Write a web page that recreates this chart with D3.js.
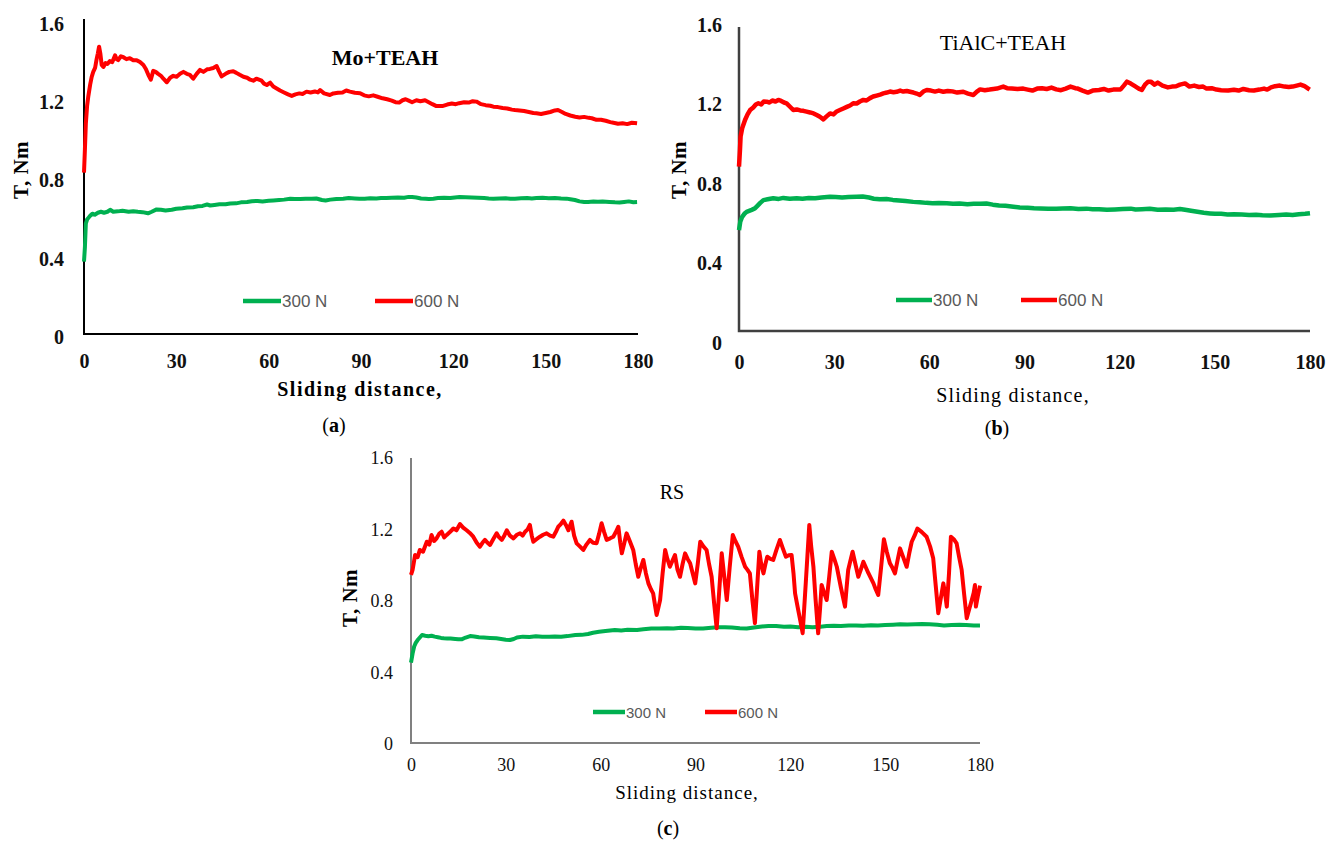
<!DOCTYPE html>
<html>
<head>
<meta charset="utf-8">
<script src="https://cdn.jsdelivr.net/npm/d3@7"></script>
<style>
body { margin: 0; background: #fff; }
svg { display: block; }
</style>
</head>
<body>
<script>
// tick values and labels shared by the three panels
var xTicks = [0, 30, 60, 90, 120, 150, 180];
var yTicks = [0, 0.4, 0.8, 1.2, 1.6];
var loads = ["300 N", "600 N"];
var colors = {"300 N": "#00b050", "600 N": "#ff0000"};
var titles = ["Mo+TEAH", "TiAlC+TEAH", "RS"];
var captions = ["a", "b", "c"];
var xLabel = "Sliding distance,";
var yLabel = "T, Nm";

// (a) Mo+TEAH, [sliding distance, torque]
var moGreen = [[0,0.375],[0.3,0.45],[0.6,0.57],[1,0.59],[1.5,0.6],[2,0.61],[2.7,0.62],[3.5,0.615],[4.5,0.625],[5.5,0.63],[6.5,0.625],[7.6,0.63],[8.5,0.64],[9.5,0.63],[11,0.632],[12.5,0.635],[14.5,0.63],[16,0.633],[17.5,0.63],[19,0.628],[20.8,0.622],[22,0.63],[23.6,0.642],[25,0.64],[26.5,0.636],[28.5,0.64],[30,0.645],[32,0.648],[33.5,0.652],[35.5,0.653],[37,0.658],[38.5,0.66],[40,0.667],[41,0.662],[42.4,0.665],[44,0.668],[46,0.668],[47.5,0.672],[49.4,0.673],[51,0.678],[53,0.68],[54.5,0.684],[56.4,0.685],[58,0.683],[60,0.686],[61.5,0.688],[63.4,0.69],[65,0.692],[67,0.696],[68.5,0.695],[70.3,0.695],[72,0.697],[74,0.696],[75.5,0.698],[77.3,0.69],[78.5,0.688],[80,0.692],[82,0.695],[84.2,0.697],[86,0.7],[88,0.698],[89.5,0.696],[91.2,0.697],[93,0.699],[95,0.698],[96.5,0.7],[98.2,0.7],[100,0.702],[102,0.703],[104,0.702],[105.5,0.706],[106.6,0.705],[108,0.703],[109.5,0.698],[111,0.696],[112,0.695],[113.5,0.697],[115,0.7],[117,0.702],[119,0.7],[120.5,0.703],[122,0.705],[124,0.704],[126,0.703],[128,0.702],[130,0.7],[131.5,0.698],[133,0.697],[135,0.698],[137,0.699],[138.5,0.696],[140,0.697],[142,0.699],[144,0.7],[145.5,0.698],[147,0.7],[149,0.701],[151,0.699],[153,0.7],[155,0.698],[156.8,0.697],[158,0.694],[159.5,0.69],[161,0.683],[162.5,0.68],[163.8,0.68],[165.5,0.682],[167,0.681],[168.5,0.683],[170.7,0.68],[172.5,0.678],[174,0.677],[175.5,0.68],[177,0.683],[178.5,0.679],[179.7,0.68]];
var moRed = [[0,0.83],[0.3,0.95],[0.6,1.08],[1,1.17],[1.4,1.22],[2,1.28],[2.5,1.32],[3,1.345],[3.6,1.365],[4.1,1.41],[4.5,1.44],[4.9,1.474],[5.3,1.44],[5.75,1.38],[6.3,1.37],[7,1.39],[7.6,1.385],[8.4,1.4],[9.2,1.395],[10.1,1.43],[10.6,1.41],[11.1,1.405],[12,1.425],[12.8,1.42],[13.8,1.41],[14.9,1.415],[16,1.405],[17.1,1.405],[18.2,1.395],[19.3,1.38],[20.1,1.36],[20.9,1.33],[21.7,1.305],[22.5,1.35],[23.3,1.345],[24.1,1.335],[25,1.325],[25.8,1.31],[26.9,1.292],[28,1.315],[29,1.325],[30.1,1.32],[31.2,1.335],[32.3,1.345],[33.4,1.335],[34.4,1.33],[35.5,1.31],[36.6,1.335],[37.7,1.355],[38.8,1.345],[40,1.358],[40.9,1.36],[42,1.365],[43.1,1.375],[43.8,1.35],[44.7,1.322],[46,1.335],[47.2,1.345],[48.5,1.348],[49.5,1.34],[50.6,1.33],[51.8,1.32],[53,1.315],[54,1.305],[55,1.3],[56,1.31],[57.7,1.3],[58.5,1.285],[59.4,1.278],[60.5,1.29],[61.5,1.27],[62.6,1.26],[63.7,1.25],[65,1.24],[66.3,1.23],[67.5,1.222],[68.7,1.23],[70,1.235],[71,1.232],[72.3,1.244],[73.6,1.24],[75,1.245],[76,1.24],[76.7,1.252],[78,1.235],[79.9,1.227],[81,1.235],[82.5,1.238],[84,1.24],[85.2,1.25],[86.4,1.244],[88,1.238],[89.7,1.236],[91,1.225],[92.5,1.22],[94,1.225],[95.4,1.218],[97,1.21],[98.5,1.205],[100,1.198],[101.2,1.19],[102.4,1.188],[103.5,1.2],[104.5,1.205],[105.5,1.198],[106.6,1.19],[108,1.2],[109.3,1.195],[110.8,1.2],[112,1.19],[113.2,1.18],[114.5,1.17],[116.4,1.17],[118,1.178],[119.5,1.183],[120.8,1.18],[121.9,1.185],[123.5,1.19],[125,1.188],[126.3,1.195],[127.5,1.193],[129,1.18],[130.5,1.175],[132,1.172],[133,1.167],[134.5,1.165],[136,1.16],[137.5,1.158],[139,1.152],[140,1.15],[141.5,1.148],[143,1.145],[144.5,1.14],[146,1.135],[147,1.133],[148.5,1.13],[150,1.135],[151.5,1.14],[153,1.148],[154,1.15],[155.3,1.14],[156.5,1.13],[158,1.122],[159.6,1.116],[161,1.112],[162.5,1.115],[164,1.11],[165,1.108],[166.5,1.1],[168,1.1],[169.5,1.095],[171,1.088],[172,1.085],[173.5,1.08],[175,1.082],[176.5,1.078],[178,1.085],[179.7,1.082]];

// (b) TiAlC+TEAH
var tiGreen = [[0,0.558],[0.4,0.6],[1,0.625],[1.7,0.64],[2.4,0.65],[3.2,0.655],[4,0.66],[5,0.667],[5.8,0.68],[6.7,0.695],[7.7,0.709],[9,0.713],[10.8,0.718],[12.5,0.715],[14,0.72],[16,0.716],[18.2,0.718],[20,0.716],[22,0.72],[24,0.718],[26,0.722],[28.7,0.726],[30.5,0.724],[32.5,0.722],[34.5,0.724],[37.1,0.726],[39,0.727],[41,0.722],[42.5,0.716],[44.4,0.713],[46.5,0.714],[48.5,0.71],[50.5,0.707],[52.5,0.704],[54.9,0.7],[57,0.698],[59,0.695],[61,0.693],[63,0.694],[65.5,0.693],[67.5,0.69],[69.5,0.692],[72,0.688],[74,0.69],[76,0.69],[78,0.692],[80,0.686],[82,0.682],[84,0.68],[86.5,0.676],[88.5,0.672],[91,0.67],[93,0.668],[95,0.667],[97.5,0.666],[100,0.665],[102,0.667],[104.5,0.668],[107,0.664],[109.5,0.666],[111.5,0.663],[113.5,0.663],[116,0.66],[118.5,0.662],[121,0.664],[123.5,0.666],[125,0.662],[127,0.663],[129.5,0.665],[132,0.66],[134.5,0.662],[137,0.66],[139,0.664],[140.6,0.66],[142.5,0.655],[144.5,0.65],[146.5,0.645],[148.5,0.642],[150,0.64],[152,0.64],[154,0.637],[156,0.638],[158.5,0.636],[160.8,0.634],[163,0.635],[165,0.633],[167.5,0.632],[170.2,0.634],[172.5,0.636],[174.5,0.634],[176.5,0.638],[178.5,0.64],[180,0.643]];
var tiRed = [[0,0.877],[0.3,0.96],[0.5,1.028],[1,1.07],[1.9,1.112],[2.7,1.14],[3.5,1.162],[4.5,1.175],[5.3,1.19],[6.1,1.196],[7,1.19],[7.8,1.205],[8.7,1.204],[9.6,1.2],[10.5,1.21],[11.5,1.205],[12.4,1.213],[13.3,1.208],[14.2,1.2],[15,1.196],[16,1.18],[17.1,1.162],[18.2,1.165],[19.3,1.16],[20.3,1.158],[21.3,1.154],[22.4,1.15],[23.5,1.145],[24.5,1.137],[25.5,1.128],[26.6,1.115],[27.6,1.13],[28.7,1.145],[29.8,1.14],[30.8,1.155],[31.8,1.162],[32.9,1.17],[34,1.178],[35,1.185],[36,1.196],[37.1,1.195],[38.1,1.205],[39.2,1.213],[40.2,1.21],[41.3,1.222],[42.3,1.23],[43.4,1.235],[44.5,1.24],[45.5,1.246],[46.6,1.25],[47.6,1.255],[48.7,1.252],[49.7,1.254],[50.8,1.26],[51.8,1.255],[52.9,1.258],[53.9,1.254],[55,1.25],[56,1.245],[57,1.238],[58.1,1.255],[59.2,1.263],[60.5,1.26],[61.8,1.255],[63,1.26],[64.4,1.254],[65.8,1.258],[67.3,1.256],[68.8,1.25],[70.7,1.254],[72.2,1.245],[73.9,1.238],[75,1.255],[76,1.266],[77.5,1.262],[79,1.265],[80.2,1.268],[81.3,1.27],[82.3,1.275],[83.3,1.28],[84.5,1.272],[86,1.27],[87.8,1.268],[89.6,1.27],[91,1.265],[92.5,1.26],[94,1.27],[95.5,1.272],[97,1.268],[98.5,1.275],[100,1.266],[101.5,1.262],[103,1.27],[104.5,1.28],[106,1.272],[106.8,1.27],[108.3,1.26],[110,1.25],[111.5,1.26],[113.5,1.263],[115,1.268],[116.5,1.26],[118,1.265],[120.3,1.266],[121.3,1.285],[122.3,1.305],[123.5,1.295],[124.8,1.282],[126,1.27],[127,1.263],[128,1.29],[129,1.305],[129.8,1.305],[131,1.29],[132,1.3],[133.5,1.285],[135.2,1.276],[136.5,1.28],[137.8,1.282],[139,1.29],[140.6,1.296],[142,1.28],[143.5,1.285],[145,1.278],[146.3,1.28],[147.4,1.27],[149,1.272],[150.5,1.265],[152,1.262],[154.2,1.26],[156,1.264],[157.5,1.26],[159,1.268],[160.8,1.262],[162.3,1.26],[164,1.265],[165.5,1.27],[166.5,1.265],[167.7,1.276],[169,1.282],[170.5,1.285],[172,1.28],[173.3,1.278],[174.5,1.28],[175.8,1.285],[177,1.29],[178.3,1.282],[179.9,1.265]];

// (c) RS
var rsGreen = [[0,0.45],[0.5,0.5],[1,0.54],[1.5,0.56],[2.1,0.576],[2.8,0.59],[3.5,0.604],[4.5,0.6],[5.5,0.597],[6.5,0.6],[7.5,0.595],[8.5,0.592],[9.5,0.588],[10.4,0.586],[11.5,0.584],[12.5,0.585],[14,0.582],[15,0.58],[16,0.58],[17.3,0.59],[18.7,0.598],[20,0.596],[21.5,0.592],[23,0.59],[25,0.588],[27,0.586],[28.5,0.582],[30,0.578],[31.3,0.576],[32.5,0.582],[33.5,0.59],[35.4,0.595],[37.5,0.593],[39.5,0.597],[41.5,0.594],[43.7,0.595],[45.5,0.596],[47.5,0.594],[49.5,0.598],[52,0.604],[54,0.605],[56,0.61],[57.6,0.617],[59.5,0.622],[61.5,0.626],[64.5,0.632],[66.5,0.63],[68.5,0.633],[71.5,0.632],[73.5,0.636],[76,0.64],[78.5,0.641],[81,0.642],[83,0.64],[85.4,0.645],[87.5,0.643],[90,0.64],[92.4,0.641],[95,0.645],[97,0.647],[99.3,0.648],[101.5,0.646],[104,0.642],[106.2,0.641],[108.5,0.646],[111,0.652],[113.1,0.655],[115.5,0.654],[118,0.65],[120,0.652],[122.5,0.648],[125,0.65],[127,0.648],[129.5,0.651],[131.5,0.654],[133.8,0.656],[136,0.655],[138.5,0.657],[140.8,0.658],[143,0.656],[145.5,0.659],[147.7,0.658],[150,0.66],[152.5,0.662],[154.7,0.664],[157,0.663],[159.5,0.665],[161.7,0.666],[164,0.664],[166.5,0.661],[168.6,0.658],[171,0.66],[173.5,0.662],[175.6,0.66],[178,0.657],[180,0.658]];
var rsRed = [[0,0.94],[0.5,0.968],[1.3,1.052],[2.1,1.04],[2.8,1.08],[3.8,1.07],[5,1.126],[5.8,1.11],[6.5,1.164],[7.3,1.13],[8.1,1.145],[8.9,1.17],[9.7,1.182],[10.5,1.15],[11.3,1.164],[12.3,1.18],[13.4,1.2],[14.4,1.19],[15.5,1.225],[16.5,1.205],[17.6,1.19],[18.6,1.175],[19.7,1.154],[20.8,1.12],[21.8,1.098],[22.6,1.12],[23.4,1.136],[24.2,1.12],[25,1.108],[26,1.14],[27.1,1.173],[27.9,1.15],[28.7,1.136],[29.5,1.16],[30.3,1.19],[31.3,1.16],[32.4,1.145],[33.5,1.165],[34.5,1.173],[35.3,1.16],[36.1,1.182],[36.9,1.195],[37.6,1.22],[38.2,1.16],[38.7,1.126],[39.7,1.14],[40.8,1.154],[41.8,1.165],[42.9,1.173],[44,1.16],[45,1.154],[45.8,1.18],[46.6,1.21],[47.4,1.225],[48.2,1.244],[49,1.22],[49.8,1.19],[50.3,1.215],[50.8,1.238],[51.6,1.16],[52.4,1.117],[53.4,1.1],[54.5,1.08],[55.5,1.11],[56.6,1.136],[57.6,1.12],[58.7,1.117],[59.5,1.17],[60.3,1.229],[61.1,1.18],[61.9,1.136],[63,1.145],[64,1.154],[64.8,1.18],[65.6,1.21],[66.2,1.12],[66.7,1.061],[67.5,1.12],[68.2,1.173],[69.2,1.13],[70.3,1.08],[71.1,1.0],[71.9,0.93],[72.7,0.98],[73.5,1.024],[74.3,0.95],[75.1,0.893],[75.9,0.86],[76.6,0.837],[77.2,0.77],[77.7,0.716],[78.3,0.76],[78.8,0.8],[79.6,0.95],[80.4,1.08],[81.1,1.03],[81.9,0.986],[82.7,1.02],[83.5,1.052],[84.3,0.97],[85.1,0.93],[85.9,1.0],[86.7,1.061],[87.5,1.03],[88.3,1.005],[89.1,0.95],[89.9,0.893],[90.7,1.0],[91.5,1.126],[92.5,1.1],[93.5,1.08],[94.3,1.0],[95.1,0.93],[95.9,0.78],[96.7,0.642],[97.5,0.85],[98.3,1.061],[99.1,0.93],[99.9,0.8],[100.8,0.98],[101.8,1.164],[102.6,1.13],[103.5,1.098],[104.6,1.04],[105.7,0.986],[106.4,0.97],[107.2,0.949],[108,0.8],[108.8,0.67],[109.5,0.87],[110.2,1.07],[110.8,1.0],[111.5,0.949],[112.1,1.0],[112.7,1.042],[113.7,1.03],[114.6,1.024],[115.6,1.08],[116.7,1.136],[117.6,1.09],[118.6,1.042],[119.5,1.05],[120.4,1.052],[121,0.95],[121.5,0.837],[122,0.79],[122.5,0.744],[123.2,0.68],[123.9,0.614],[124.9,0.9],[126,1.22],[126.6,1.1],[127.3,0.986],[128,0.8],[128.8,0.614],[129.4,0.75],[129.9,0.884],[130.7,0.84],[131.5,0.8],[132.3,0.93],[133.1,1.07],[133.9,1.03],[134.7,0.986],[136,0.87],[137.3,0.763],[137.8,0.87],[138.3,0.968],[139,1.02],[139.7,1.07],[140.6,1.0],[141.5,0.93],[142.3,0.97],[143.1,1.014],[144.7,0.95],[146.3,0.893],[147,0.86],[147.8,0.828],[148.7,0.98],[149.6,1.14],[150.5,1.07],[151.5,1.005],[152.3,0.98],[153.1,0.949],[153.9,1.02],[154.7,1.089],[155.7,1.04],[156.8,0.986],[157.6,1.06],[158.4,1.126],[159.3,1.16],[160.2,1.2],[161.6,1.18],[163.1,1.154],[164.2,1.1],[165.2,1.033],[166,0.88],[166.8,0.726],[167.6,0.81],[168.4,0.893],[169,0.83],[169.5,0.763],[170.2,0.95],[170.8,1.154],[171.7,1.14],[172.6,1.117],[173.4,1.04],[174.2,0.968],[175,0.83],[175.8,0.698],[176.6,0.75],[177.4,0.8],[178,0.84],[178.4,0.884],[178.7,0.763],[179.3,0.82],[180,0.88]];

var seriesData = [[moGreen, moRed], [tiGreen, tiRed], [rsGreen, rsRed]];

// layout of each panel (pixels)
var panels = [
    {left: 84, right: 638, yZero: 335, yTop: 22, axisY: 334, axisTop: 19, axisColor: "#000", axisWidth: 2,
     tickFont: 20, tickWeight: "bold", yPad: 20, yShift: 2, xPad: 20,
     title: [385, 57], titleSize: 22, titleWeight: "bold",
     xLab: [360, 389], xLabSize: 20, xLabWeight: "bold", xLabSpacing: 1.5,
     yLab: [21, 170], caption: [334, 425],
     legendY: 301, legendX: [243, 375], legendLen: 38, legendFont: 17, lineWidth: 4},
    {left: 739, right: 1310, yZero: 341, yTop: 23, axisY: 331, axisTop: 27, axisColor: "#404040", axisWidth: 2.5,
     tickFont: 20, tickWeight: "bold", yPad: 17, yShift: 2, xPad: 24,
     title: [1003, 42], titleSize: 22, titleWeight: "normal",
     xLab: [1013, 395], xLabSize: 20, xLabWeight: "normal", xLabSpacing: 1.2,
     yLab: [679, 170], caption: [997, 428],
     legendY: 300, legendX: [896, 1021], legendLen: 36, legendFont: 17, lineWidth: 4.5},
    {left: 411, right: 980, yZero: 743, yTop: 457, axisY: 743, axisTop: 458, axisColor: "#808080", axisWidth: 2,
     tickFont: 18, tickWeight: "normal", yPad: 18, yShift: 1, xPad: 15,
     title: [672, 492], titleSize: 20, titleWeight: "normal",
     xLab: [687, 792], xLabSize: 19, xLabWeight: "normal", xLabSpacing: 1,
     yLab: [350, 598], caption: [668, 828],
     legendY: 712, legendX: [593, 705], legendLen: 32, legendFont: 15, lineWidth: 4}
];

var serif = "'Liberation Serif', 'Times New Roman', serif";
var sans = "'Liberation Sans', Arial, sans-serif";

var svg = d3.select("body").append("svg")
    .attr("width", 1336)
    .attr("height", 843)
    .style("background", "#fff");

function draw_panel(p, i) {
    var xScale = d3.scaleLinear()
        .domain([xTicks[0], xTicks[xTicks.length - 1]])
        .range([p.left, p.right]);

    var yScale = d3.scaleLinear()
        .domain([yTicks[0], yTicks[yTicks.length - 1]])
        .range([p.yZero, p.yTop]);

    var g = svg.append("g").attr("class", "panel");

    // y tick labels
    var yAxis = g.append("g")
        .attr("transform", "translate(" + p.left + "," + p.yShift + ")")
        .call(d3.axisLeft(yScale).tickValues(yTicks).tickSize(0)
            .tickPadding(p.yPad).tickFormat(d3.format("")));
    yAxis.select(".domain").remove();
    yAxis.selectAll("text")
        .attr("font-family", serif)
        .attr("font-size", p.tickFont)
        .attr("font-weight", p.tickWeight)
        .attr("fill", "#111");

    // x tick labels
    var xAxis = g.append("g")
        .attr("transform", "translate(0," + p.axisY + ")")
        .call(d3.axisBottom(xScale).tickValues(xTicks).tickSize(0).tickPadding(p.xPad));
    xAxis.select(".domain").remove();
    xAxis.selectAll("text")
        .attr("font-family", serif)
        .attr("font-size", p.tickFont)
        .attr("font-weight", p.tickWeight)
        .attr("fill", "#111");

    // axis lines
    g.append("path")
        .attr("d", "M" + p.left + "," + p.axisTop + "V" + p.axisY + "H" + p.right)
        .attr("fill", "none")
        .attr("stroke", p.axisColor)
        .attr("stroke-width", p.axisWidth);

    var line = d3.line()
        .x(function(d) { return xScale(d[0]); })
        .y(function(d) { return yScale(d[1]); });

    g.selectAll(".series")
        .data(seriesData[i])
        .enter()
        .append("path")
        .attr("class", "series")
        .attr("d", function(d) { return line(d); })
        .attr("fill", "none")
        .attr("stroke", function(d, j) { return colors[loads[j]]; })
        .attr("stroke-width", p.lineWidth)
        .attr("stroke-linejoin", "round");

    // legend
    loads.forEach(function(name, j) {
        g.append("line")
            .attr("x1", p.legendX[j])
            .attr("x2", p.legendX[j] + p.legendLen)
            .attr("y1", p.legendY)
            .attr("y2", p.legendY)
            .attr("stroke", colors[name])
            .attr("stroke-width", 4.5);
        g.append("text")
            .attr("x", p.legendX[j] + p.legendLen + 1)
            .attr("y", p.legendY)
            .attr("dominant-baseline", "central")
            .attr("font-family", sans)
            .attr("font-size", p.legendFont)
            .attr("fill", "#595959")
            .text(name);
    });

    g.append("text")
        .attr("x", p.title[0])
        .attr("y", p.title[1])
        .attr("text-anchor", "middle")
        .attr("dominant-baseline", "central")
        .attr("font-family", serif)
        .attr("font-size", p.titleSize)
        .attr("font-weight", p.titleWeight)
        .text(titles[i]);

    g.append("text")
        .attr("x", p.xLab[0])
        .attr("y", p.xLab[1])
        .attr("text-anchor", "middle")
        .attr("dominant-baseline", "central")
        .attr("font-family", serif)
        .attr("font-size", p.xLabSize)
        .attr("font-weight", p.xLabWeight)
        .attr("letter-spacing", p.xLabSpacing)
        .text(xLabel);

    g.append("text")
        .attr("transform", "translate(" + p.yLab[0] + "," + p.yLab[1] + ") rotate(-90)")
        .attr("text-anchor", "middle")
        .attr("dominant-baseline", "central")
        .attr("font-family", serif)
        .attr("font-size", 21)
        .attr("font-weight", "bold")
        .attr("letter-spacing", 0.5)
        .text(yLabel);

    var cap = g.append("text")
        .attr("x", p.caption[0])
        .attr("y", p.caption[1])
        .attr("text-anchor", "middle")
        .attr("dominant-baseline", "central")
        .attr("font-family", serif)
        .attr("font-size", 20);
    cap.append("tspan").text("(");
    cap.append("tspan").attr("font-weight", "bold").text(captions[i]);
    cap.append("tspan").text(")");
}

panels.forEach(draw_panel);
</script>
</body>
</html>
